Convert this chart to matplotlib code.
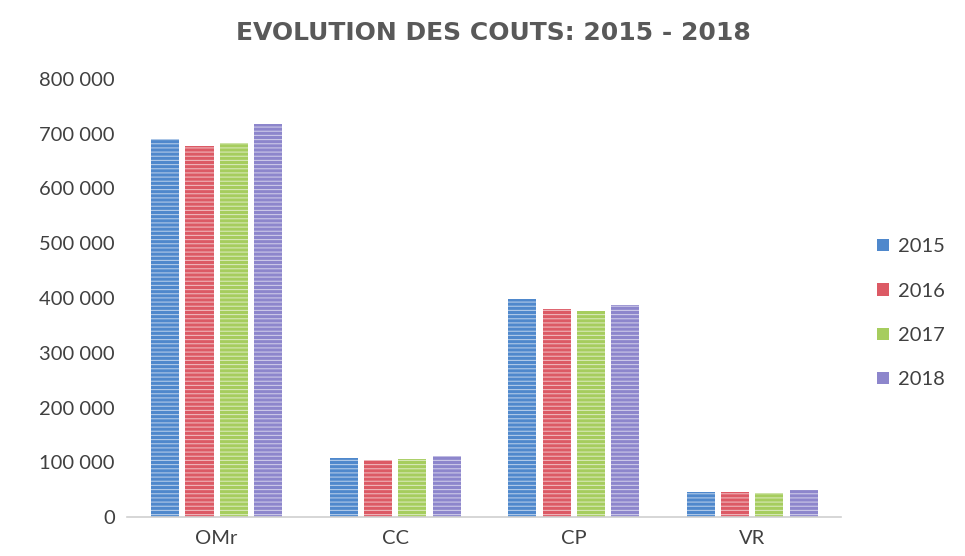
import matplotlib
matplotlib.use("Agg")
import matplotlib.pyplot as plt
import numpy as np
from matplotlib.ticker import FuncFormatter
from matplotlib.patches import Patch

categories = ["OMr", "CC", "CP", "VR"]
years = ["2015", "2016", "2017", "2018"]
v2015 = [690000, 108000, 398000, 46000]
v2016 = [678000, 104000, 380000, 46000]
v2017 = [683000, 106000, 376000, 44000]
v2018 = [718000, 111000, 387000, 49000]
series = [v2015, v2016, v2017, v2018]
colors = ["#4f88cc", "#dc5a65", "#a6cd5e", "#8d86cc"]

plt.rcParams['font.family'] = ['Lato', 'DejaVu Sans']
plt.rcParams['hatch.linewidth'] = 0.8

fig = plt.figure(figsize=(9.65, 5.56), dpi=100)
ax = fig.add_axes([0.132, 0.070, 0.740, 0.788])

x = np.arange(len(categories))
w = 0.157
step = 0.192
for i, (vals, c) in enumerate(zip(series, colors)):
    ax.bar(x + (i - 1.5) * step, vals, width=w, color=c,
           edgecolor=(1, 1, 1, 0.55), linewidth=0, hatch="----", label=years[i])

ax.set_xlim(-0.5, 3.5)
ax.set_ylim(0, 800000)
ax.set_yticks(np.arange(0, 800001, 100000))
ax.yaxis.set_major_formatter(FuncFormatter(lambda v, p: f"{int(v):,}".replace(",", " ")))
ax.set_xticks(x)
ax.set_xticklabels(categories)
for s in ["top", "right", "left"]:
    ax.spines[s].set_visible(False)
ax.spines["bottom"].set_color("#d0d0d0")
ax.spines["bottom"].set_linewidth(1.2)
ax.tick_params(axis="both", length=0, labelsize=14.5, colors="#404040")
ax.tick_params(axis="y", pad=9)
ax.tick_params(axis="x", pad=9)

handles = [Patch(facecolor=c, edgecolor="none", label=y) for c, y in zip(colors, years)]
leg = ax.legend(handles=handles, loc="center left", bbox_to_anchor=(1.025, 0.465),
                frameon=False, fontsize=14.5, labelspacing=1.36, handlelength=0.55,
                handleheight=0.55, handletextpad=0.45)
for t in leg.get_texts():
    t.set_color("#404040")

fig.text(0.511, 0.94, "EVOLUTION DES COUTS: 2015 - 2018", ha="center", va="center",
         fontsize=18, fontweight="bold", color="#595959",
         family=["DejaVu Sans"])

fig.savefig("out.png", dpi=100)
